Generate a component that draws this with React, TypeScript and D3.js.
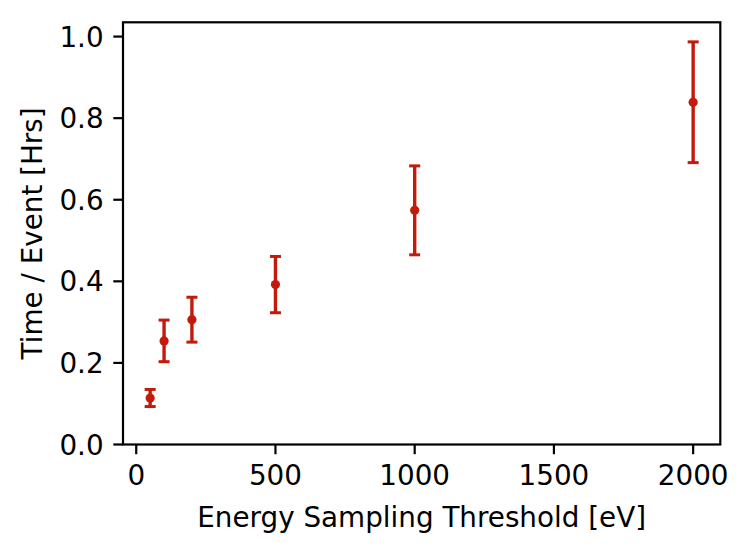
import React from 'react';
import * as d3 from 'd3';

// data
const thresholds = [50, 100, 200, 500, 1000, 2000];
const timePerEvent = [0.114, 0.254, 0.306, 0.392, 0.574, 0.839];
const timeError = [0.021, 0.051, 0.055, 0.069, 0.109, 0.148];
const xTicks = [0, 500, 1000, 1500, 2000];
const yTicks = [0, 0.2, 0.4, 0.6, 0.8, 1.0];

const W = 747;
const H = 552;
const left = 123;
const right = 720.3;
const top = 22.3;
const bottom = 444.5;
const red = '#c41a0b';
const font = 'DejaVu Sans, sans-serif';

export default function App() {
  const x = d3.scaleLinear().domain([-47.5, 2097.5]).range([left, right]);
  const y = d3.scaleLinear().domain([0, 1.035]).range([bottom, top]);
  const tickLen = 9.7;
  const fs = 27.8;

  return (
    <svg width={W} height={H} style={{ position: 'absolute', left: 0, top: 0 }}>
      <rect width={W} height={H} fill="white" />

      {thresholds.map((t, i) => {
        const cx = x(t);
        const y0 = y(timePerEvent[i] - timeError[i]);
        const y1 = y(timePerEvent[i] + timeError[i]);
        return (
          <g key={t}>
            <line x1={cx} x2={cx} y1={y0} y2={y1} stroke={red} strokeWidth={3.4} />
            <line x1={cx - 5.5} x2={cx + 5.5} y1={y0} y2={y0} stroke={red} strokeWidth={3} />
            <line x1={cx - 5.5} x2={cx + 5.5} y1={y1} y2={y1} stroke={red} strokeWidth={3} />
            <circle cx={cx} cy={y(timePerEvent[i])} r={4.6} fill={red} />
          </g>
        );
      })}

      <rect x={left} y={top} width={right - left} height={bottom - top}
        fill="none" stroke="black" strokeWidth={2.2} />

      {xTicks.map(t => (
        <g key={t}>
          <line x1={x(t)} x2={x(t)} y1={bottom} y2={bottom + tickLen} stroke="black" strokeWidth={2.2} />
          <text x={x(t)} y={bottom + tickLen + 9.7} dy="0.76em" textAnchor="middle"
            fontFamily={font} fontSize={fs}>{t}</text>
        </g>
      ))}
      {yTicks.map(t => (
        <g key={t}>
          <line x1={left - tickLen} x2={left} y1={y(t)} y2={y(t)} stroke="black" strokeWidth={2.2} />
          <text x={left - tickLen - 9.7} y={y(t)} dy="0.36em" textAnchor="end"
            fontFamily={font} fontSize={fs}>{d3.format('.1f')(t)}</text>
        </g>
      ))}

      <text x={(left + right) / 2} y={527} textAnchor="middle" fontFamily={font} fontSize={fs}>
        Energy Sampling Threshold [eV]
      </text>
      <text transform={`translate(42,${(top + bottom) / 2}) rotate(-90)`} textAnchor="middle"
        fontFamily={font} fontSize={fs}>
        Time / Event [Hrs]
      </text>
    </svg>
  );
}
